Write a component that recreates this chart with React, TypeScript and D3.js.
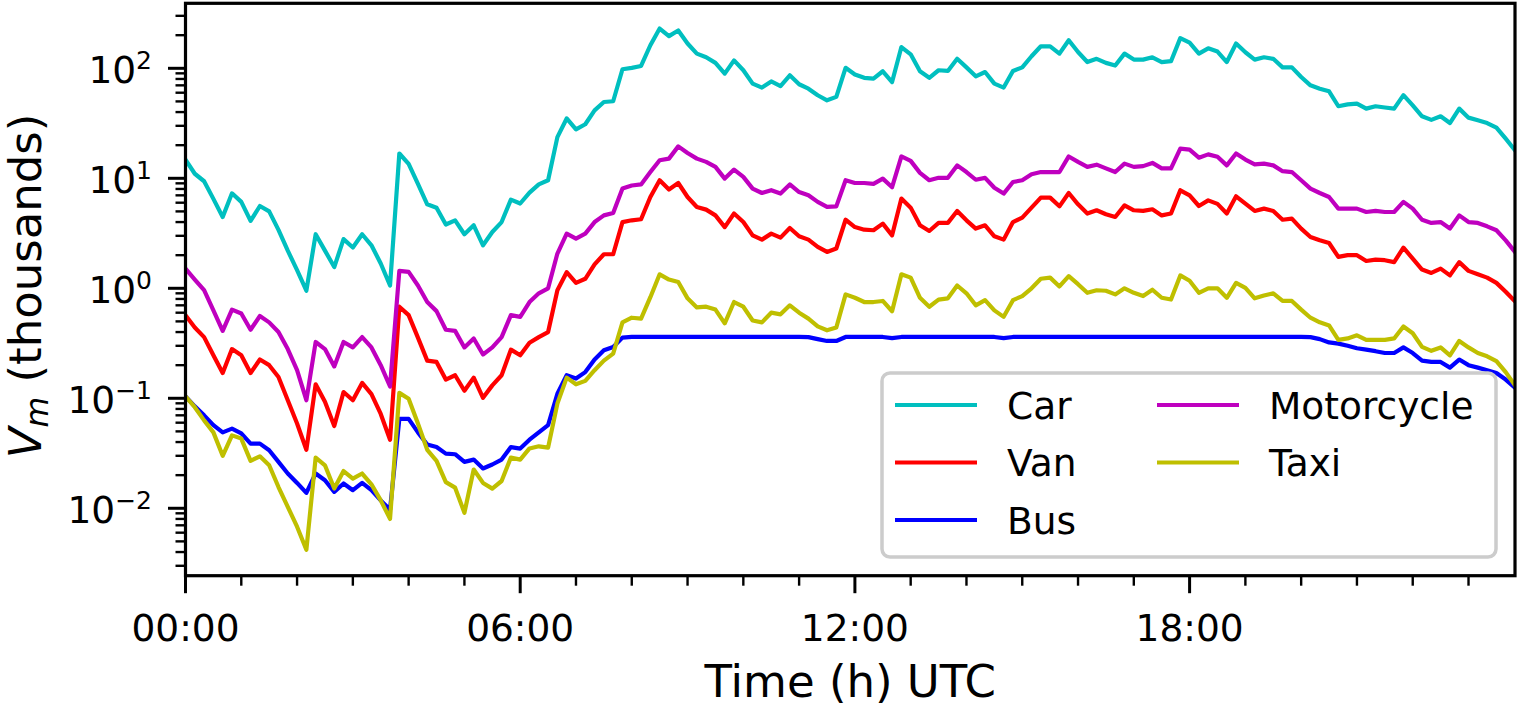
import React from "react";
import * as d3 from "d3";

// ---- data (values in thousands, one sample every 10 minutes from 00:00 to 23:50) ----
const minutes: number[] = d3.range(0, 1440, 10);

const car = [
  14.8, 11.0, 9.4, 6.5, 4.45, 7.3, 6.1, 4.1, 5.6, 5.0,
  3.4, 2.2, 1.46, 0.95, 3.1, 2.2, 1.56, 2.8, 2.35, 3.1,
  2.46, 1.68, 1.06, 16.8, 13.5, 8.9, 5.8, 5.4, 3.8, 4.15,
  3.1, 3.74, 2.46, 3.25, 4.0, 6.4, 5.9, 7.4, 8.8, 9.6,
  23.7, 35, 27.9, 31, 41.5, 49.4, 50.2, 98, 101, 105,
  162, 230, 196, 221, 168, 136, 126, 112, 89.5, 118,
  96, 72.5, 66.8, 76, 69, 86.3, 71.6, 65.3, 56.9, 51.2,
  55, 101, 88, 82, 80.5, 94, 75, 156, 134, 94,
  82, 96, 94.6, 122, 102, 84.6, 92.5, 72.5, 66.8, 94.6,
  102, 128.7, 158.5, 158.5, 136, 180, 140.6, 114, 122, 112,
  106, 136, 120, 120, 126, 114, 116, 188, 171, 136,
  152, 142, 114, 168, 140, 120, 126, 122, 102, 102,
  83.3, 70, 65.3, 61.8, 45.2, 47, 47.8, 43, 45.2, 44,
  43, 57, 46, 36.6, 34, 36.6, 31.8, 43, 35.6, 33.7,
  31.8, 28.9, 22.9, 18,
];

const van = [
  0.57, 0.44, 0.36, 0.246, 0.17, 0.28, 0.246, 0.17, 0.225, 0.2,
  0.156, 0.096, 0.059, 0.034, 0.134, 0.093, 0.056, 0.114, 0.096, 0.138,
  0.109, 0.072, 0.042, 0.68, 0.57, 0.356, 0.22, 0.214, 0.148, 0.162,
  0.117, 0.154, 0.101, 0.131, 0.162, 0.277, 0.246, 0.32, 0.36, 0.4,
  0.96, 1.4, 1.12, 1.22, 1.65, 2.04, 2.04, 4.0, 4.15, 4.24,
  6.76, 9.6, 7.9, 9.06, 6.76, 5.48, 5.19, 4.6, 3.6, 4.78,
  4.0, 3.03, 2.77, 3.14, 2.89, 3.53, 2.97, 2.77, 2.38, 2.14,
  2.3, 4.2, 3.6, 3.41, 3.37, 3.87, 3.03, 6.54, 5.41, 3.74,
  3.32, 3.93, 3.93, 5.05, 4.15, 3.49, 3.74, 2.97, 2.77, 4.0,
  4.39, 5.41, 6.67, 6.67, 5.56, 7.35, 5.8, 4.78, 5.12, 4.71,
  4.45, 5.68, 5.12, 5.05, 5.23, 4.6, 4.78, 7.78, 7.0, 5.6,
  6.3, 5.85, 4.78, 6.86, 5.89, 5.05, 5.3, 5.05, 4.2, 4.3,
  3.49, 2.93, 2.73, 2.58, 1.93, 2.0, 2.0, 1.77, 1.82, 1.8,
  1.73, 2.34, 1.86, 1.48, 1.38, 1.51, 1.31, 1.73, 1.44, 1.34,
  1.25, 1.12, 0.93, 0.76,
];

const bus = [
  0.104, 0.0845, 0.07, 0.057, 0.049, 0.053, 0.048, 0.0387, 0.0387, 0.0337,
  0.0264, 0.0207, 0.017, 0.0138, 0.0207, 0.018, 0.0141, 0.0168, 0.0146, 0.017,
  0.0146, 0.0118, 0.0097, 0.065, 0.065, 0.049, 0.038, 0.036, 0.0314, 0.031,
  0.0264, 0.0277, 0.023, 0.025, 0.0277, 0.036, 0.0349, 0.042, 0.049, 0.057,
  0.11, 0.162, 0.151, 0.173, 0.225, 0.273, 0.293, 0.356, 0.361, 0.361,
  0.361, 0.361, 0.361, 0.361, 0.361, 0.361, 0.361, 0.361, 0.361, 0.361,
  0.361, 0.361, 0.361, 0.361, 0.361, 0.361, 0.361, 0.36, 0.345, 0.332,
  0.332, 0.361, 0.361, 0.361, 0.361, 0.361, 0.352, 0.361, 0.361, 0.361,
  0.361, 0.361, 0.361, 0.361, 0.361, 0.361, 0.361, 0.361, 0.352, 0.361,
  0.361, 0.361, 0.361, 0.361, 0.361, 0.361, 0.361, 0.361, 0.361, 0.361,
  0.361, 0.361, 0.361, 0.361, 0.361, 0.361, 0.361, 0.361, 0.361, 0.361,
  0.361, 0.361, 0.361, 0.361, 0.361, 0.361, 0.361, 0.361, 0.361, 0.361,
  0.361, 0.36, 0.345, 0.322, 0.314, 0.3, 0.285, 0.277, 0.268, 0.258,
  0.258, 0.29, 0.258, 0.22, 0.214, 0.214, 0.19, 0.225, 0.2, 0.19,
  0.18, 0.17, 0.148, 0.125,
];

const motorcycle = [
  1.51, 1.2, 0.96, 0.63, 0.41, 0.64, 0.59, 0.42, 0.56, 0.49,
  0.4, 0.28, 0.18, 0.096, 0.325, 0.28, 0.195, 0.325, 0.29, 0.36,
  0.29, 0.2, 0.128, 1.44, 1.41, 1.06, 0.75, 0.62, 0.42, 0.41,
  0.29, 0.35, 0.25, 0.29, 0.36, 0.57, 0.55, 0.75, 0.9, 1.0,
  2.07, 3.14, 2.83, 3.14, 4.0, 4.6, 4.84, 8.06, 8.6, 8.8,
  11.4, 14.6, 15.1, 19.5, 17, 15.1, 14.1, 12.7, 9.94, 12,
  10.3, 8.06, 7.35, 7.8, 7.26, 8.8, 7.5, 7.0, 6.1, 5.5,
  5.56, 9.6, 9.06, 9.06, 8.9, 9.94, 8.3, 15.8, 14.4, 11.2,
  9.6, 10.1, 10.1, 13.1, 11.4, 9.7, 10.1, 8.2, 7.26, 9.26,
  9.6, 10.9, 11.4, 11.4, 11.4, 15.8, 14.1, 12.7, 13.3, 12.3,
  11.4, 13.6, 12.7, 12.9, 13.8, 12.3, 12.3, 18.6, 18.2, 15.4,
  16.5, 15.7, 13.1, 16.8, 14.8, 13.4, 13.6, 13.1, 11.6, 11.4,
  9.6, 8.06, 7.35, 6.76, 5.3, 5.3, 5.3, 4.94, 5.05, 4.94,
  4.94, 6.1, 5.3, 4.2, 3.93, 4.0, 3.49, 4.6, 4.0, 3.93,
  3.66, 3.37, 2.73, 2.14,
];

const taxi = [
  0.104, 0.083, 0.063, 0.049, 0.03, 0.046, 0.043, 0.027, 0.0297, 0.0246,
  0.0156, 0.0103, 0.0068, 0.0042, 0.0289, 0.0246, 0.0151, 0.0218, 0.0186, 0.0207,
  0.0165, 0.0118, 0.008, 0.112, 0.099, 0.059, 0.034, 0.027, 0.0173, 0.0154,
  0.0091, 0.0225, 0.017, 0.0151, 0.0177, 0.0289, 0.0277, 0.035, 0.0366, 0.0356,
  0.0895, 0.154, 0.134, 0.144, 0.18, 0.22, 0.255, 0.49, 0.54, 0.53,
  0.83, 1.34, 1.2, 1.14, 0.81, 0.67, 0.68, 0.64, 0.48, 0.75,
  0.68, 0.51, 0.49, 0.6, 0.58, 0.7, 0.6, 0.53, 0.45, 0.415,
  0.44, 0.88, 0.82, 0.75, 0.75, 0.767, 0.618, 1.34, 1.25, 0.82,
  0.68, 0.79, 0.81, 1.06, 0.9, 0.7, 0.78, 0.63, 0.55, 0.78,
  0.85, 1.0, 1.22, 1.25, 1.04, 1.29, 1.09, 0.91, 0.96, 0.95,
  0.88, 1.0, 0.91, 0.85, 0.97, 0.82, 0.79, 1.31, 1.17, 0.91,
  1.0, 1.0, 0.82, 1.12, 1.01, 0.81, 0.86, 0.9, 0.767, 0.767,
  0.64, 0.54, 0.49, 0.46, 0.34, 0.35, 0.374, 0.34, 0.34, 0.34,
  0.35, 0.45, 0.39, 0.293, 0.27, 0.29, 0.246, 0.332, 0.29, 0.258,
  0.241, 0.218, 0.173, 0.131,
];

const seriesNames = ["Car", "Van", "Bus", "Motorcycle", "Taxi"];
const seriesValues = [car, van, bus, motorcycle, taxi];
const seriesColors = ["#00bfbf", "#ff0000", "#0000ff", "#bf00bf", "#bfbf00"];

const xMajorTicks = [0, 360, 720, 1080];
const xTickLabels = ["00:00", "06:00", "12:00", "18:00"];
const yMajorExps = [-2, -1, 0, 1, 2];
const yMinorMultipliers = [2, 3, 4, 5, 6, 7, 8, 9];

const xLabel = "Time (h) UTC";

// ---- layout ----
const W = 1519;
const H = 708;
const left = 185.5;
const right = 1515;
const top = 3.3;
const bottom = 575.7;
const FONT = "'DejaVu Sans', sans-serif";

export default function App() {
  const x = d3.scaleLinear().domain([0, 1430]).range([left, right]);
  const y = d3
    .scaleLog()
    .domain([Math.pow(10, -2.613), Math.pow(10, 2.591)])
    .range([bottom, top]);

  const line = d3
    .line<number>()
    .x((_, i) => x(minutes[i]))
    .y((v) => y(v));

  const xMinor = d3.range(60, 1430, 60).filter((m) => m % 360 !== 0);
  const yMinor: number[] = [];
  for (let e = -3; e <= 2; e++) {
    for (const m of yMinorMultipliers) {
      const v = m * Math.pow(10, e);
      const py = y(v);
      if (py >= top && py <= bottom) yMinor.push(v);
    }
  }

  const legendRows = [
    { name: seriesNames[0], color: seriesColors[0], col: 0, row: 0 },
    { name: seriesNames[1], color: seriesColors[1], col: 0, row: 1 },
    { name: seriesNames[2], color: seriesColors[2], col: 0, row: 2 },
    { name: seriesNames[3], color: seriesColors[3], col: 1, row: 0 },
    { name: seriesNames[4], color: seriesColors[4], col: 1, row: 1 },
  ];
  const legX = 882;
  const legY = 373;
  const legW = 614;
  const legH = 184;
  const colHandleX = [895, 1157];
  const handleLen = 82;
  const textGap = 30;
  const rowY0 = 405;
  const rowDy = 57.5;

  return (
    <svg
      width={W}
      height={H}
      style={{ position: "absolute", left: 0, top: 0, background: "#fff" }}
      fontFamily={FONT}
    >
      <rect x={0} y={0} width={W} height={H} fill="#fff" />
      <defs>
        <clipPath id="plotClip">
          <rect x={left} y={top} width={right - left} height={bottom - top} />
        </clipPath>
      </defs>

      {/* data lines */}
      <g clipPath="url(#plotClip)">
        {seriesValues.map((vals, k) => (
          <path
            key={seriesNames[k]}
            d={line(vals) || ""}
            fill="none"
            stroke={seriesColors[k]}
            strokeWidth={4.2}
            strokeLinejoin="round"
            strokeLinecap="square"
          />
        ))}
      </g>

      {/* x ticks */}
      {xMinor.map((m) => (
        <line key={"xm" + m} x1={x(m)} x2={x(m)} y1={bottom} y2={bottom + 10} stroke="#000" strokeWidth={2.4} />
      ))}
      {xMajorTicks.map((m, i) => (
        <g key={"xM" + m}>
          <line x1={x(m)} x2={x(m)} y1={bottom} y2={bottom + 17.5} stroke="#000" strokeWidth={3} />
          <text x={x(m)} y={640.7} fontSize={37.5} textAnchor="middle" fill="#000">
            {xTickLabels[i]}
          </text>
        </g>
      ))}

      {/* y ticks */}
      {yMinor.map((v) => (
        <line key={"ym" + v} x1={left - 10} x2={left} y1={y(v)} y2={y(v)} stroke="#000" strokeWidth={2.4} />
      ))}
      {yMajorExps.map((e) => {
        const py = y(Math.pow(10, e));
        return (
          <g key={"yM" + e}>
            <line x1={left - 17.5} x2={left} y1={py} y2={py} stroke="#000" strokeWidth={3} />
            <text x={152} y={py + 14.5} fontSize={37.5} textAnchor="end" fill="#000">
              <tspan>10</tspan>
              <tspan fontSize={25} dy={-13.4}>
                {e < 0 ? "\u2212" + Math.abs(e) : String(e)}
              </tspan>
            </text>
          </g>
        );
      })}

      {/* spines */}
      <rect x={left} y={top} width={right - left} height={bottom - top} fill="none" stroke="#000" strokeWidth={3.2} />

      {/* axis labels */}
      <text x={(left + right) / 2} y={697} fontSize={45} textAnchor="middle" fill="#000">
        {xLabel}
      </text>
      <text transform={`translate(41,286) rotate(-90)`} fontSize={45} textAnchor="middle" fill="#000">
        <tspan fontStyle="italic">V</tspan>
        <tspan fontStyle="italic" fontSize={31.5} dy={7}>m</tspan>
        <tspan dy={-7}> (thousands)</tspan>
      </text>

      {/* legend */}
      <rect
        x={legX}
        y={legY}
        width={legW}
        height={legH}
        rx={8}
        ry={8}
        fill="#fff"
        fillOpacity={0.8}
        stroke="#cccccc"
        strokeWidth={3.5}
      />
      {legendRows.map((r) => {
        const hx = colHandleX[r.col];
        const ry = rowY0 + r.row * rowDy;
        return (
          <g key={"leg" + r.name}>
            <line x1={hx} x2={hx + handleLen} y1={ry} y2={ry} stroke={r.color} strokeWidth={4.2} />
            <text x={hx + handleLen + textGap} y={ry + 13.6} fontSize={37.5} fill="#000">
              {r.name}
            </text>
          </g>
        );
      })}
    </svg>
  );
}
